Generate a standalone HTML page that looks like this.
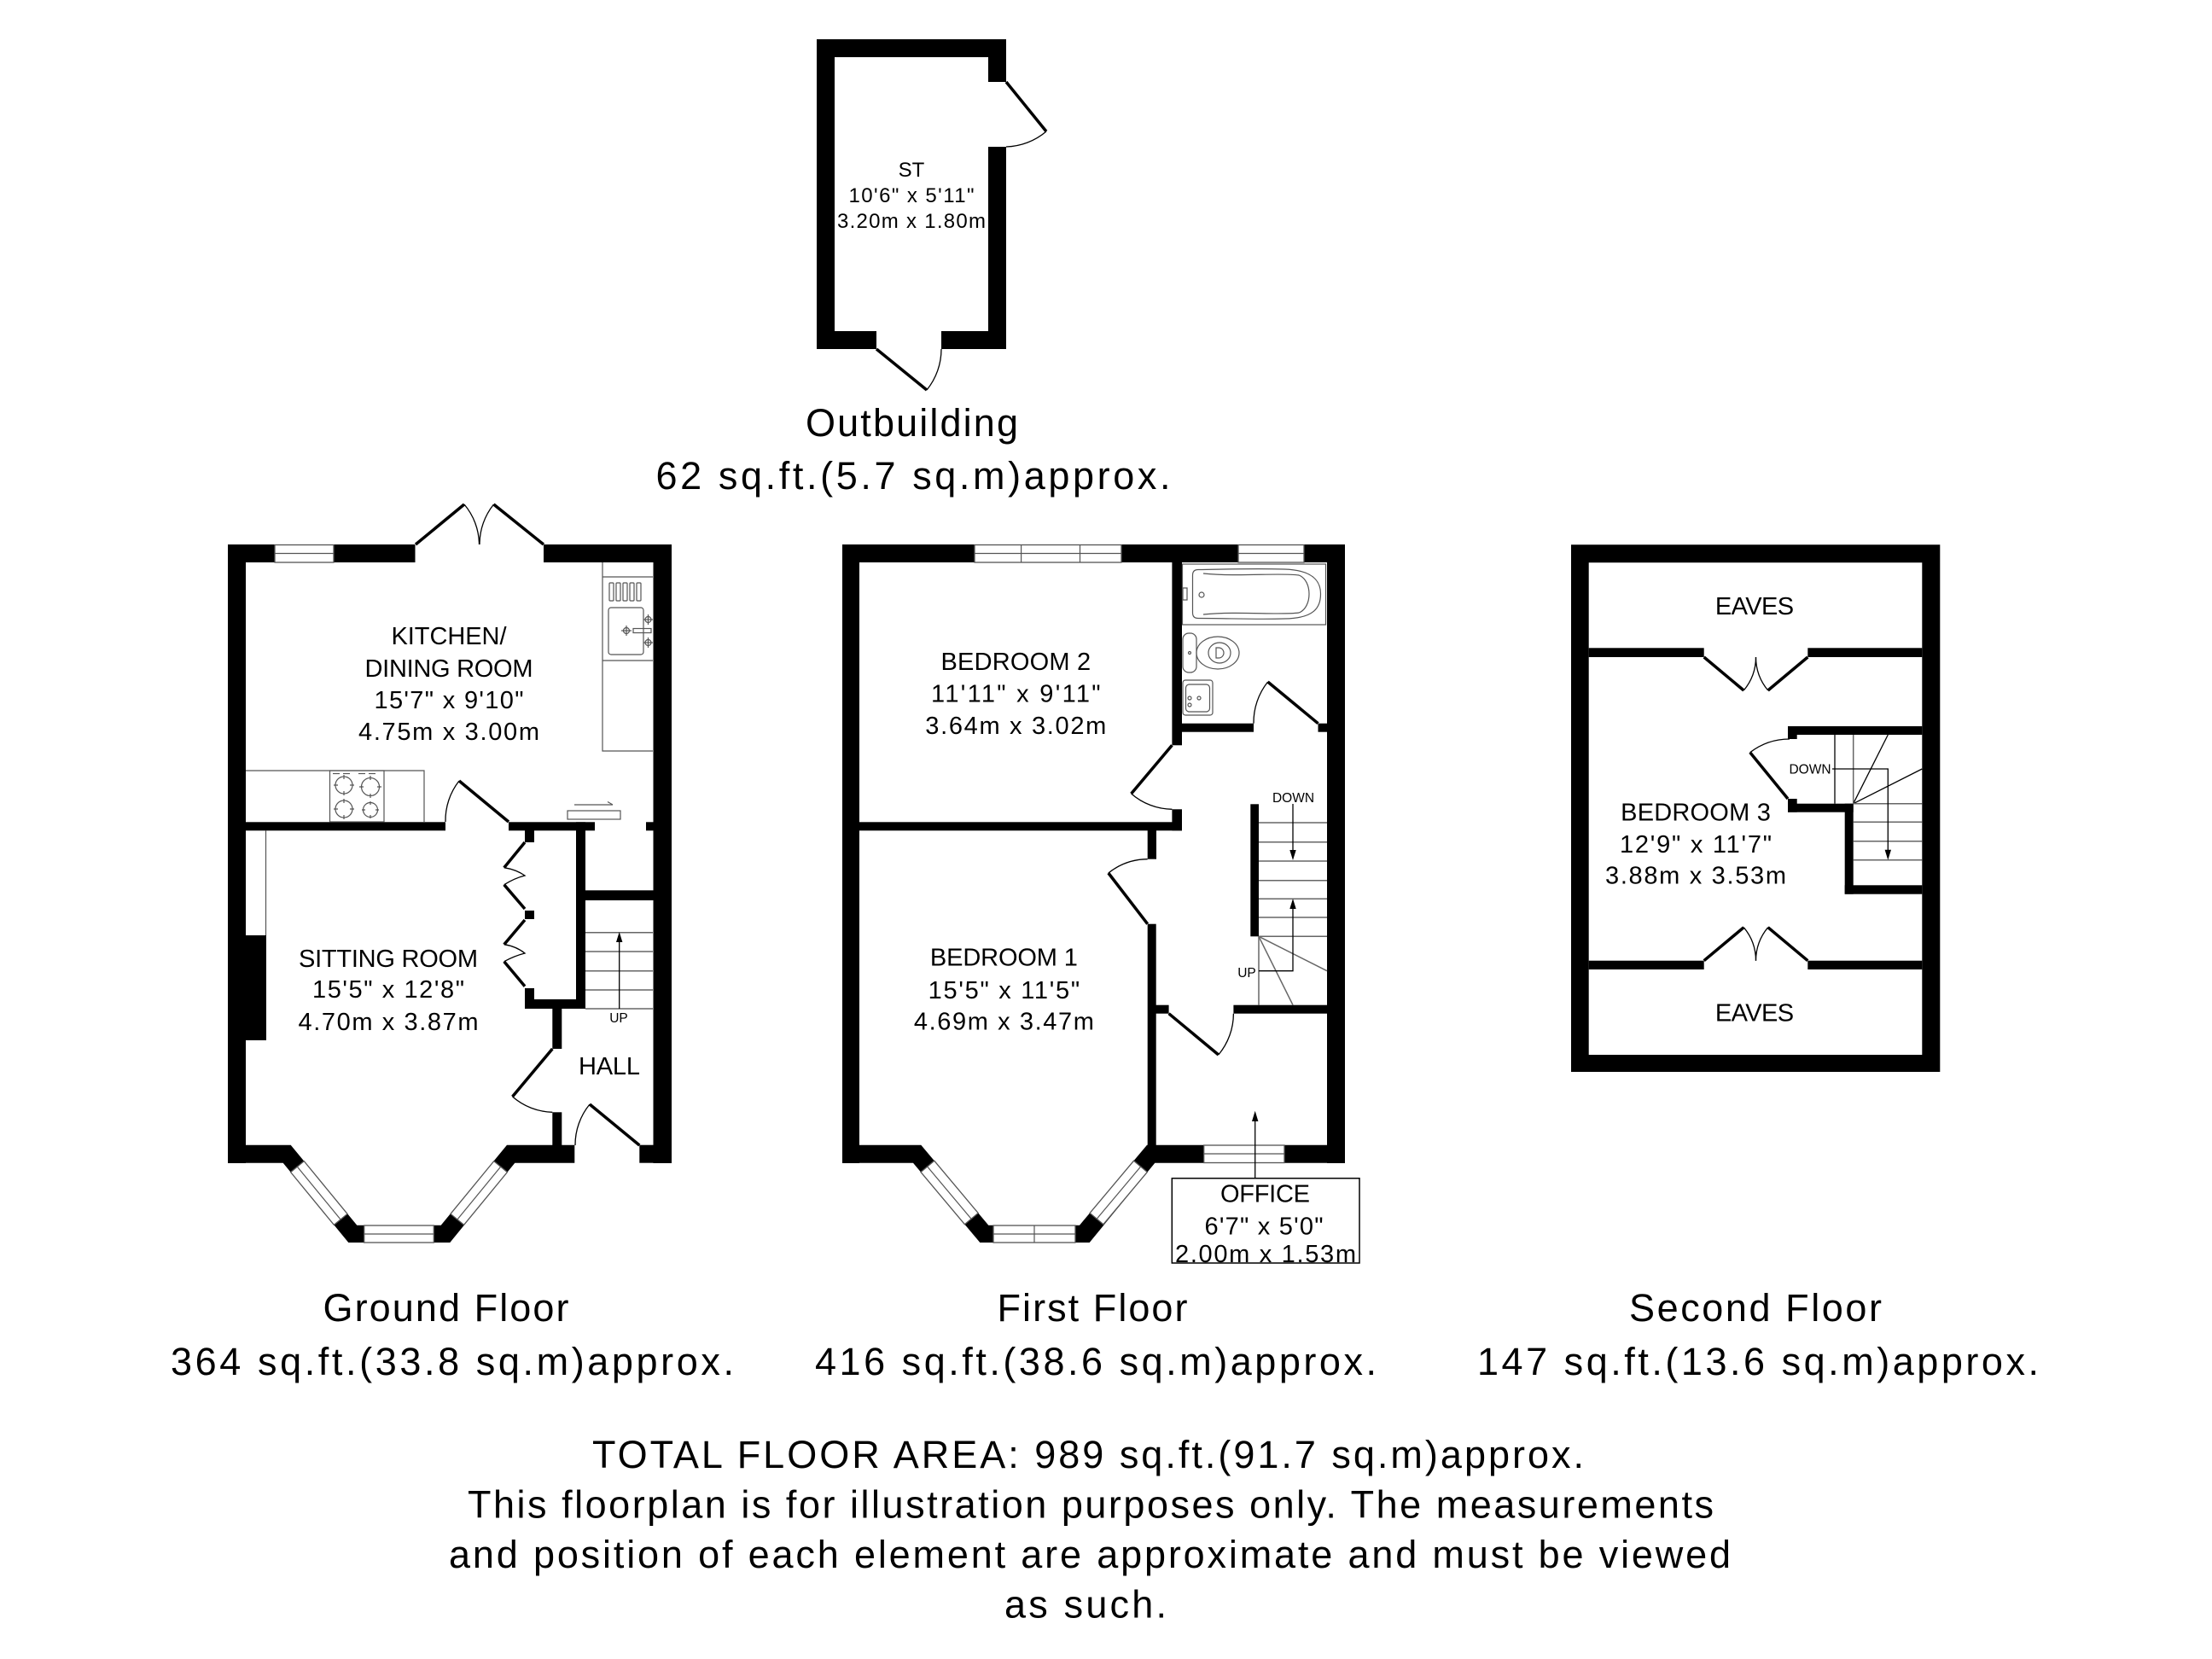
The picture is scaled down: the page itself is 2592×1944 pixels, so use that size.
<!DOCTYPE html>
<html><head><meta charset="utf-8"><style>
html,body{margin:0;padding:0;background:#fff;}
svg{display:block;}
text{font-family:"Liberation Sans",Arial,sans-serif;fill:#000;}
.r{font-size:29px;text-anchor:middle;}
.s{font-size:15.5px;text-anchor:middle;}
.l{font-size:45px;text-anchor:middle;}
.d{stroke:#000;stroke-width:3.5;fill:none;}
.a{stroke:#000;stroke-width:1.3;fill:none;}
.g{stroke:#666;stroke-width:1.5;fill:none;}
.win{fill:#fff;stroke:#555;stroke-width:1.3;}
.wl{stroke:#555;stroke-width:1.2;fill:none;}
</style></head><body>
<svg width="2592" height="1944" viewBox="0 0 2592 1944" xmlns="http://www.w3.org/2000/svg">
<rect width="2592" height="1944" fill="#fff"/>

<!-- ================= OUTBUILDING ================= -->
<path fill="#000" fill-rule="evenodd" d="M957 46H1179V409H957Z M978 67V388H1158V67Z"/>
<rect x="1156" y="96" width="25" height="76" fill="#fff"/>
<rect x="1027" y="386" width="76" height="25" fill="#fff"/>
<line class="d" x1="1179" y1="96" x2="1226" y2="154"/>
<path class="a" d="M1226 154 A76 76 0 0 1 1179 172"/>
<line class="d" x1="1027" y1="409" x2="1086" y2="457"/>
<path class="a" d="M1086 457 A76 76 0 0 0 1103 409"/>
<text class="r" style="font-size:24px" x="1068" y="207">ST</text>
<text class="r" style="font-size:24px" x="1068" y="237" textLength="147" lengthAdjust="spacing">10'6" x 5'11"</text>
<text class="r" style="font-size:24px" x="1068" y="267" textLength="174" lengthAdjust="spacing">3.20m x 1.80m</text>

<text class="l" x="1068.5" y="511" textLength="249" lengthAdjust="spacing">Outbuilding</text>
<text class="l" x="1070" y="573" textLength="603" lengthAdjust="spacing">62 sq.ft.(5.7 sq.m)approx.</text>

<!-- ================= GROUND FLOOR ================= -->
<g fill="#000">
<rect x="267" y="638" width="219.5" height="21"/>
<rect x="637" y="638" width="150" height="21"/>
<rect x="267" y="638" width="21" height="725"/>
<rect x="765.5" y="638" width="21.5" height="725"/>
<polygon points="267,1362.7 331.7,1362.7 408.3,1456 527.3,1456 603.3,1362.7 673.3,1362.7 673.3,1341.7 594,1341.7 516.7,1435.7 418.3,1435.7 340.7,1341.7 267,1341.7"/>
<rect x="749.3" y="1341.7" width="37.7" height="21"/>
<rect x="288" y="963.3" width="234" height="10"/>
<rect x="596" y="963.3" width="101" height="10"/>
<rect x="757" y="963.3" width="9" height="10"/>
<rect x="615" y="973" width="11" height="14"/>
<rect x="675" y="963.3" width="11" height="218.7"/>
<rect x="615" y="1067" width="11" height="10"/>
<rect x="615" y="1158" width="11" height="24"/>
<rect x="615" y="1171" width="71" height="11"/>
<rect x="686" y="1043.3" width="79.5" height="11.7"/>
<rect x="647.3" y="1182" width="11" height="47"/>
<rect x="647.3" y="1303.3" width="11" height="40"/>
<rect x="288" y="1096" width="24" height="123"/>
</g>
<!-- windows -->
<rect class="win" x="322" y="638.5" width="69" height="20.5"/>
<line class="wl" x1="322" y1="648.5" x2="391" y2="648.5"/>
<rect class="win" x="426.7" y="1436" width="81.6" height="20"/>
<line class="wl" x1="426.7" y1="1446" x2="508.3" y2="1446"/>
<g transform="translate(331.7,1362.7) rotate(50.6)">
<rect class="win" x="14" y="-20.3" width="80" height="20.3"/><line class="wl" x1="14" y1="-10" x2="94" y2="-10"/></g>
<g transform="translate(935,0) scale(-1,1)"><g transform="translate(331.7,1362.7) rotate(50.6)">
<rect class="win" x="14" y="-20.3" width="80" height="20.3"/><line class="wl" x1="14" y1="-10" x2="94" y2="-10"/></g></g>
<!-- doors -->
<line class="d" x1="487" y1="638" x2="544" y2="591"/>
<path class="a" d="M544 591 A74 74 0 0 1 561.5 638"/>
<line class="d" x1="637" y1="638" x2="578.5" y2="591"/>
<path class="a" d="M578.5 591 A75 75 0 0 0 562 638"/>
<line class="d" x1="596" y1="963" x2="538" y2="915"/>
<path class="a" d="M538 915 A75 75 0 0 0 522 963"/>
<line class="d" x1="647.3" y1="1229" x2="600.5" y2="1285"/>
<path class="a" d="M600.5 1285 A74 74 0 0 0 647.3 1303.3"/>
<line class="d" x1="749.3" y1="1342" x2="691" y2="1294"/>
<path class="a" d="M691 1294 A75 75 0 0 0 674 1342"/>
<!-- bifold cupboard doors -->
<line class="d" x1="615" y1="987" x2="590.7" y2="1016.7"/>
<path class="a" d="M590.7 1016.7 Q605 1019 615 1026 Q603 1029 590.7 1036.7"/>
<line class="d" x1="590.7" y1="1036.7" x2="615" y2="1065"/>
<line class="d" x1="615" y1="1078" x2="590.7" y2="1106.7"/>
<path class="a" d="M590.7 1106.7 Q605 1109 615 1117 Q603 1120 590.7 1126.7"/>
<line class="d" x1="590.7" y1="1126.7" x2="615" y2="1155.7"/>
<!-- kitchen fittings -->
<g class="wl">
<polyline points="706,659 706,880 765,880"/>
<line x1="706" y1="676" x2="765" y2="676"/>
<line x1="706" y1="774" x2="765" y2="774"/>
<rect x="714" y="683" width="5" height="21" rx="1"/>
<rect x="722" y="683" width="5" height="21" rx="1"/>
<rect x="730" y="683" width="5" height="21" rx="1"/>
<rect x="738" y="683" width="5" height="21" rx="1"/>
<rect x="746" y="683" width="5" height="21" rx="1"/>
<rect x="713" y="712" width="41" height="55" rx="3"/>
<circle cx="759.5" cy="726" r="3.5"/><circle cx="759.5" cy="753" r="3.5"/><circle cx="734" cy="739" r="3.5"/>
<line x1="754" y1="726" x2="765" y2="726"/><line x1="759.5" y1="720" x2="759.5" y2="732"/>
<line x1="754" y1="753" x2="765" y2="753"/><line x1="759.5" y1="747" x2="759.5" y2="759"/>
<line x1="728" y1="739" x2="740" y2="739"/><line x1="734" y1="733" x2="734" y2="745"/>
<rect x="742" y="736.5" width="21" height="5"/>
<polyline points="288,903 497,903 497,963"/>
<rect x="386.5" y="903" width="63.5" height="60"/>
<line x1="390" y1="906.5" x2="398" y2="906.5"/><line x1="402" y1="906.5" x2="410" y2="906.5"/>
<line x1="420" y1="906.5" x2="428" y2="906.5"/><line x1="432" y1="906.5" x2="440" y2="906.5"/>
<circle cx="403" cy="920" r="10"/><circle cx="434" cy="922" r="10.5"/>
<circle cx="403" cy="948" r="10"/><circle cx="434" cy="949" r="8.5"/>
<path d="M391 920h5M410 920h5M403 908v5M403 927v5 M421 922h5M442 922h5M434 909v5M434 930v5 M391 948h5M410 948h5M403 936v5M403 955v5 M424 949h4M440 949h4M434 939v4M434 955v4"/>
<rect x="665" y="950" width="62" height="10"/>
<line x1="673" y1="943" x2="718" y2="943"/><line x1="718" y1="943" x2="712" y2="939.5"/>
<line x1="311.5" y1="973" x2="311.5" y2="1096"/>
</g>
<!-- stairs -->
<g class="g">
<line x1="686" y1="1092.7" x2="765" y2="1092.7"/>
<line x1="686" y1="1115" x2="765" y2="1115"/>
<line x1="686" y1="1137.7" x2="765" y2="1137.7"/>
<line x1="686" y1="1160" x2="765" y2="1160"/>
<line x1="686" y1="1182" x2="765" y2="1182"/>
</g>
<line class="a" x1="725.7" y1="1182" x2="725.7" y2="1100"/>
<polygon points="725.7,1092 722,1104 729.4,1104" fill="#000"/>
<text class="s" x="725" y="1198">UP</text>
<!-- labels -->
<text class="r" x="526" y="755" textLength="135" lengthAdjust="spacing">KITCHEN/</text>
<text class="r" x="526" y="793" textLength="197" lengthAdjust="spacing">DINING ROOM</text>
<text class="r" x="526" y="830" textLength="175" lengthAdjust="spacing">15'7" x 9'10"</text>
<text class="r" x="526" y="867" textLength="212" lengthAdjust="spacing">4.75m x 3.00m</text>
<text class="r" x="455" y="1133" textLength="210" lengthAdjust="spacing">SITTING ROOM</text>
<text class="r" x="455" y="1169" textLength="178" lengthAdjust="spacing">15'5" x 12'8"</text>
<text class="r" x="455" y="1207" textLength="211" lengthAdjust="spacing">4.70m x 3.87m</text>
<text class="r" x="714" y="1259" textLength="72" lengthAdjust="spacing">HALL</text>

<text class="l" x="522.5" y="1548" textLength="288" lengthAdjust="spacing">Ground Floor</text>
<text class="l" x="530" y="1611" textLength="660" lengthAdjust="spacing">364 sq.ft.(33.8 sq.m)approx.</text>

<!-- ================= FIRST FLOOR ================= -->
<g fill="#000">
<rect x="987" y="638" width="155" height="21"/>
<rect x="1314" y="638" width="137" height="21"/>
<rect x="1528" y="638" width="48" height="21"/>
<rect x="987" y="638" width="20" height="725"/>
<rect x="1555" y="638" width="21" height="725"/>
<polygon points="987,1362.7 1070,1362.7 1148.3,1456 1276.7,1456 1353.3,1362.7 1576,1362.7 1576,1341.7 1344,1341.7 1265,1435.7 1158.3,1435.7 1079.3,1341.7 987,1341.7"/>
<rect x="1373.4" y="659" width="11.6" height="214.3"/>
<rect x="1373.4" y="948.3" width="11.6" height="25"/>
<rect x="1007" y="963.3" width="378" height="10"/>
<rect x="1385" y="847.7" width="84" height="10"/>
<rect x="1544.5" y="847.7" width="11" height="10"/>
<rect x="1344.7" y="973" width="10.3" height="33.7"/>
<rect x="1344.7" y="1082.7" width="10" height="260"/>
<rect x="1354" y="1177.7" width="15.6" height="10"/>
<rect x="1445.4" y="1177.7" width="110" height="10"/>
<rect x="1465.3" y="942.3" width="9.7" height="155"/>
</g>
<rect class="win" x="1142" y="638.5" width="172" height="20.5"/>
<line class="wl" x1="1142" y1="648.5" x2="1314" y2="648.5"/>
<line class="wl" x1="1196.6" y1="638.5" x2="1196.6" y2="659"/>
<line class="wl" x1="1265.5" y1="638.5" x2="1265.5" y2="659"/>
<rect class="win" x="1451" y="638.5" width="77" height="20.5"/>
<line class="wl" x1="1451" y1="648.5" x2="1528" y2="648.5"/>
<rect class="win" x="1410.7" y="1342" width="94.3" height="20.5"/>
<line class="wl" x1="1410.7" y1="1352" x2="1505" y2="1352"/>
<rect class="win" x="1164" y="1436" width="96" height="20"/>
<line class="wl" x1="1164" y1="1446" x2="1260" y2="1446"/>
<line class="wl" x1="1212" y1="1436" x2="1212" y2="1456"/>
<g transform="translate(1070,1362.7) rotate(50)">
<rect class="win" x="14" y="-20.6" width="80" height="20.6"/><line class="wl" x1="14" y1="-10" x2="94" y2="-10"/></g>
<g transform="translate(2423.3,0) scale(-1,1)"><g transform="translate(1070,1362.7) rotate(50)">
<rect class="win" x="14" y="-20.6" width="80" height="20.6"/><line class="wl" x1="14" y1="-10" x2="94" y2="-10"/></g></g>
<!-- doors -->
<line class="d" x1="1373.4" y1="873.3" x2="1325.6" y2="930"/>
<path class="a" d="M1325.6 930 A74 74 0 0 0 1373.4 948.3"/>
<line class="d" x1="1544.5" y1="847.7" x2="1485.6" y2="799"/>
<path class="a" d="M1485.6 799 A76 76 0 0 0 1469 847.7"/>
<line class="d" x1="1344.7" y1="1082.7" x2="1298.8" y2="1023"/>
<path class="a" d="M1298.8 1023 A75 75 0 0 1 1344.7 1006.7"/>
<line class="d" x1="1369.6" y1="1187.7" x2="1427.8" y2="1236"/>
<path class="a" d="M1427.8 1236 A75.6 75.6 0 0 0 1445.4 1187.7"/>
<!-- bathroom -->
<g class="wl">
<rect x="1385.5" y="661" width="168" height="71"/>
<path d="M1404 667.5 C1440 667 1470 666 1505 667 C1540 668 1547.5 682 1547.5 696 C1547.5 712 1540 724.5 1505 725 C1470 726 1440 724.5 1404 724.5 Q1397.5 724.5 1397.5 718 L1397.5 674 Q1397.5 667.5 1404 667.5Z"/>
<path d="M1410 672 C1450 676 1500 671 1522 674 C1538 680 1538 712 1522 718 C1500 721 1450 716 1410 720"/>
<circle cx="1408" cy="697" r="3"/>
<rect x="1386" y="689" width="5" height="14"/>
<rect x="1386" y="742" width="16" height="46" rx="7"/>
<ellipse cx="1427" cy="765" rx="25" ry="19"/>
<ellipse cx="1429" cy="765" rx="13" ry="12"/>
<path d="M1425 759 h3 a6 6 0 0 1 0 12 h-3 z"/>
<circle cx="1394" cy="765" r="1.5"/>
<rect x="1386" y="797" width="35" height="41" rx="3"/>
<rect x="1389.5" y="802" width="28" height="32" rx="4"/>
<circle cx="1405" cy="818" r="2"/><circle cx="1394" cy="818" r="2"/><circle cx="1394" cy="826" r="2"/>
</g>
<!-- stairs -->
<g class="g">
<line x1="1475" y1="964" x2="1555" y2="964"/>
<line x1="1475" y1="986.7" x2="1555" y2="986.7"/>
<line x1="1475" y1="1009" x2="1555" y2="1009"/>
<line x1="1475" y1="1031.7" x2="1555" y2="1031.7"/>
<line x1="1475" y1="1053.3" x2="1555" y2="1053.3"/>
<line x1="1475" y1="1075" x2="1555" y2="1075"/>
<line x1="1475" y1="1097.3" x2="1555" y2="1097.3"/>
<line x1="1475" y1="1097.3" x2="1555" y2="1137.7"/>
<line x1="1475" y1="1097.3" x2="1515" y2="1177.7"/>
<line x1="1475" y1="1097.3" x2="1475" y2="1177.7"/>
</g>
<line class="a" x1="1515" y1="942" x2="1515" y2="1000"/>
<polygon points="1515,1008 1511.3,996 1518.7,996" fill="#000"/>
<polyline class="a" points="1475,1137.7 1515,1137.7 1515,1060"/>
<polygon points="1515,1053 1511.3,1065 1518.7,1065" fill="#000"/>
<text class="s" x="1515.5" y="940">DOWN</text>
<text class="s" x="1461" y="1145">UP</text>
<!-- office label -->
<line class="a" x1="1470.7" y1="1380.7" x2="1470.7" y2="1309"/>
<polygon points="1470.7,1301.7 1467,1314 1474.4,1314" fill="#000"/>
<rect x="1373.3" y="1380.7" width="219.7" height="99.3" fill="#fff" stroke="#000" stroke-width="1.5"/>
<text class="r" x="1482.5" y="1408.3" textLength="105" lengthAdjust="spacing">OFFICE</text>
<text class="r" x="1481" y="1446.5" textLength="139" lengthAdjust="spacing">6'7" x 5'0"</text>
<text class="r" x="1483" y="1479" textLength="212" lengthAdjust="spacing">2.00m x 1.53m</text>
<!-- labels -->
<text class="r" x="1190.3" y="785" textLength="175.6" lengthAdjust="spacing">BEDROOM 2</text>
<text class="r" x="1190.3" y="822.3" textLength="198.5" lengthAdjust="spacing">11'11" x 9'11"</text>
<text class="r" x="1190.3" y="860" textLength="212" lengthAdjust="spacing">3.64m x 3.02m</text>
<text class="r" x="1176.4" y="1131.7" textLength="173" lengthAdjust="spacing">BEDROOM 1</text>
<text class="r" x="1176.4" y="1170" textLength="177.5" lengthAdjust="spacing">15'5" x 11'5"</text>
<text class="r" x="1176.4" y="1206.7" textLength="211" lengthAdjust="spacing">4.69m x 3.47m</text>

<text class="l" x="1280" y="1548" textLength="223" lengthAdjust="spacing">First Floor</text>
<text class="l" x="1284" y="1611" textLength="658" lengthAdjust="spacing">416 sq.ft.(38.6 sq.m)approx.</text>

<!-- ================= SECOND FLOOR ================= -->
<path fill="#000" fill-rule="evenodd" d="M1841 638.3H2273.3V1256H1841Z M1861.7 659.3V1236H2252.3V659.3Z"/>
<g fill="#000">
<rect x="1861.7" y="759.3" width="135" height="10.7"/>
<rect x="2118.3" y="759.3" width="134" height="10.7"/>
<rect x="1861.7" y="1125.7" width="135" height="10.3"/>
<rect x="2118.3" y="1125.7" width="134" height="10.3"/>
<rect x="2095" y="851" width="157.3" height="10"/>
<rect x="2095" y="851" width="10.7" height="15"/>
<rect x="2095" y="936" width="10.7" height="15.7"/>
<rect x="2095" y="941.7" width="76.7" height="10"/>
<rect x="2161.7" y="941.7" width="10" height="106"/>
<rect x="2161.7" y="1037.3" width="90.6" height="10.4"/>
</g>
<line class="d" x1="1996.7" y1="770" x2="2043.3" y2="809"/>
<line class="d" x1="2118.3" y1="770" x2="2071.7" y2="809"/>
<path class="a" d="M2043.3 809 A61 61 0 0 0 2057.5 770"/>
<path class="a" d="M2071.7 809 A61 61 0 0 1 2057.5 770"/>
<line class="d" x1="1996.7" y1="1125.7" x2="2043.3" y2="1086.7"/>
<line class="d" x1="2118.3" y1="1125.7" x2="2071.7" y2="1086.7"/>
<path class="a" d="M2043.3 1086.7 A61 61 0 0 1 2057.5 1125.7"/>
<path class="a" d="M2071.7 1086.7 A61 61 0 0 0 2057.5 1125.7"/>
<line class="d" x1="2050.7" y1="881.7" x2="2095" y2="936"/>
<path class="a" d="M2050.7 881.7 A76 76 0 0 1 2097 866"/>
<!-- stairs -->
<g class="a">
<line x1="2150" y1="861" x2="2150" y2="941.7"/>
<line x1="2171.7" y1="941.7" x2="2212.3" y2="861"/>
<line x1="2171.7" y1="941.7" x2="2252.3" y2="901"/>
</g>
<g class="g">
<line x1="2171.7" y1="861" x2="2171.7" y2="941.7"/>
<line x1="2171.7" y1="941.7" x2="2252.3" y2="941.7"/>
<line x1="2171.7" y1="963.3" x2="2252.3" y2="963.3"/>
<line x1="2171.7" y1="985.7" x2="2252.3" y2="985.7"/>
<line x1="2171.7" y1="1007.7" x2="2252.3" y2="1007.7"/>
</g>
<polyline class="a" points="2147,901 2212.3,901 2212.3,1000"/>
<polygon points="2212.3,1007.7 2208.6,995.7 2216,995.7" fill="#000"/>
<text class="s" x="2121" y="906.7">DOWN</text>
<!-- labels -->
<text class="r" x="2056" y="720" textLength="92.3" lengthAdjust="spacing">EAVES</text>
<text class="r" x="2056" y="1196.7" textLength="92.3" lengthAdjust="spacing">EAVES</text>
<text class="r" x="1987" y="961.5" textLength="175.7" lengthAdjust="spacing">BEDROOM 3</text>
<text class="r" x="1987" y="999" textLength="178" lengthAdjust="spacing">12'9" x 11'7"</text>
<text class="r" x="1987" y="1035.7" textLength="212" lengthAdjust="spacing">3.88m x 3.53m</text>

<text class="l" x="2057" y="1548" textLength="296" lengthAdjust="spacing">Second Floor</text>
<text class="l" x="2060" y="1611" textLength="658" lengthAdjust="spacing">147 sq.ft.(13.6 sq.m)approx.</text>

<!-- ================= FOOTER ================= -->
<text class="l" x="1275" y="1720" textLength="1162" lengthAdjust="spacing">TOTAL FLOOR AREA: 989 sq.ft.(91.7 sq.m)approx.</text>
<text class="l" x="1278" y="1778.5" textLength="1460" lengthAdjust="spacing">This floorplan is for illustration purposes only. The measurements</text>
<text class="l" x="1277" y="1837" textLength="1502" lengthAdjust="spacing">and position of each element are approximate and must be viewed</text>
<text class="l" x="1272" y="1895.5" textLength="190" lengthAdjust="spacing">as such.</text>
</svg>
</body></html>
